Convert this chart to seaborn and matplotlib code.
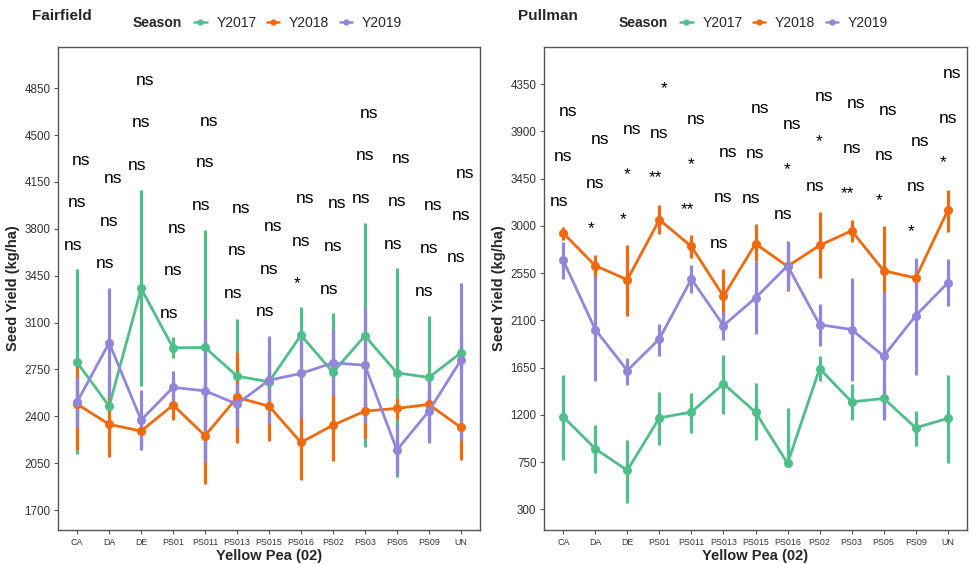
import numpy as np
import pandas as pd
import matplotlib
matplotlib.use("Agg")
import matplotlib.pyplot as plt
from matplotlib.lines import Line2D
import seaborn as sns

# ---------------------------------------------------------------- data
genotypes = ["CA", "DA", "DE", "PS01", "PS011", "PS013", "PS015",
             "PS016", "PS02", "PS03", "PS05", "PS09", "UN"]
seasons = ["Y2017", "Y2018", "Y2019"]
season_colors = ["#4FBE8B", "#F1690F", "#9286DB"]

# Fairfield: mean seed yield and error-bar limits (kg/ha)
ff_mean_2017 = [2802, 2476, 3355, 2911, 2914, 2700, 2658, 3006, 2728, 3001, 2725, 2690, 2874]
ff_lo_2017 = [2118, 2226, 2625, 2832, 2038, 2270, 2458, 2800, 2288, 2172, 1949, 2230, 2724]
ff_hi_2017 = [3499, 2726, 4093, 2989, 3790, 3130, 2858, 3213, 3168, 3847, 3504, 3150, 3024]

ff_mean_2018 = [2491, 2340, 2290, 2484, 2255, 2541, 2476, 2205, 2334, 2439, 2459, 2489, 2317]
ff_lo_2018 = [2148, 2098, 2160, 2372, 1892, 2202, 2217, 1924, 2066, 2235, 2377, 2400, 2073]
ff_hi_2018 = [2832, 2582, 2420, 2596, 2618, 2881, 2735, 2486, 2602, 2643, 2534, 2580, 2561]

ff_mean_2019 = [2508, 2949, 2372, 2616, 2590, 2491, 2670, 2720, 2799, 2782, 2148, 2439, 2819]
ff_lo_2019 = [2322, 2546, 2148, 2492, 2060, 2322, 2347, 2384, 2558, 2347, 1961, 2202, 2222]
ff_hi_2019 = [2695, 3359, 2596, 2740, 3118, 2646, 2999, 3043, 3043, 3217, 2334, 2683, 3399]

# Pullman: mean seed yield and error-bar limits (kg/ha)
pm_mean_2017 = [1182, 877, 671, 1172, 1226, 1496, 1226, 738, 1641, 1324, 1356, 1077, 1166]
pm_lo_2017 = [769, 649, 364, 912, 1030, 1210, 959, 720, 1521, 1150, 1190, 902, 738]
pm_hi_2017 = [1584, 1102, 959, 1420, 1410, 1775, 1499, 1268, 1765, 1496, 1521, 1235, 1584]

pm_mean_2018 = [2932, 2621, 2488, 3059, 2805, 2329, 2831, 2615, 2815, 2954, 2574, 2504, 3148]
pm_lo_2018 = [2869, 2514, 2146, 2919, 2695, 2065, 2669, 2380, 2504, 2843, 2146, 2420, 2938]
pm_hi_2018 = [2990, 2726, 2815, 3202, 2910, 2593, 3018, 2850, 3129, 3059, 3002, 2590, 3344]

pm_mean_2019 = [2672, 2013, 1622, 1924, 2495, 2051, 2314, 2621, 2060, 2013, 1759, 2146, 2457]
pm_lo_2019 = [2495, 1521, 1489, 1759, 2359, 1917, 1974, 2390, 1854, 1521, 1150, 1584, 2234]
pm_hi_2019 = [2843, 2520, 1743, 2070, 2631, 2177, 2669, 2859, 2260, 2504, 2367, 2695, 2688]

# Pairwise significance labels (three comparisons per genotype) and heights
ff_sig_top = ["ns"] * 13
ff_sig_mid = ["ns"] * 13
ff_sig_bot = ["ns", "ns", "ns", "ns", "ns", "ns", "ns", "*", "ns", "ns", "ns", "ns", "ns"]
ff_sig_y_top = [4312, 4175, 4909, 3802, 4605, 3952, 3814, 4026, 3989, 4661, 4325, 3971, 4217]
ff_sig_y_mid = [3996, 3857, 4593, 3486, 4292, 3635, 3496, 3708, 3670, 4344, 4001, 3653, 3902]
ff_sig_y_bot = [3678, 3541, 4275, 3168, 3971, 3317, 3180, 3391, 3349, 4026, 3685, 3334, 3583]

pm_sig_top = ["ns", "ns", "ns", "*", "ns", "ns", "ns", "ns", "ns", "ns", "ns", "ns", "ns"]
pm_sig_mid = ["ns", "ns", "*", "ns", "*", "ns", "ns", "*", "*", "ns", "ns", "ns", "ns"]
pm_sig_bot = ["ns", "*", "*", "**", "**", "ns", "ns", "ns", "ns", "**", "*", "*", "*"]
pm_sig_y_top = [4090, 3827, 3915, 4305, 4010, 3699, 4115, 3963, 4232, 4169, 4099, 3804, 4448]
pm_sig_y_mid = [3661, 3402, 3487, 3884, 3582, 3271, 3687, 3535, 3804, 3735, 3671, 3376, 4027]
pm_sig_y_bot = [3233, 2974, 3059, 3457, 3154, 2837, 3259, 3107, 3376, 3305, 3243, 2948, 3600]

ff_ticks = [1700, 2050, 2400, 2750, 3100, 3450, 3800, 4150, 4500, 4850]
pm_ticks = [300, 750, 1200, 1650, 2100, 2550, 3000, 3450, 3900, 4350]

# ---------------------------------------------------------------- style
sns.set_theme(style="white")
plt.rcParams["font.family"] = ["Liberation Sans", "DejaVu Sans"]

W, H = 972, 564
fig = plt.figure(figsize=(W / 100, H / 100), dpi=100)


def px_box(x0, y0, x1, y1):
    return [x0 / W, 1 - y1 / H, (x1 - x0) / W, (y1 - y0) / H]


def panel(ax, means, los, his, sig_labels, sig_heights, ylim, ticks):
    rows = []
    for s, m in zip(seasons, means):
        for g, v in zip(genotypes, m):
            rows.append({"Genotype": g, "Season": s, "Yield": v})
    df = pd.DataFrame(rows)

    pos = np.arange(len(genotypes))
    for col, lo, hi in zip(season_colors, los, his):
        ax.vlines(pos, lo, hi, colors=col, linewidth=2.3, zorder=1.5)

    sns.pointplot(data=df, x="Genotype", y="Yield", hue="Season",
                  order=genotypes, hue_order=seasons, palette=season_colors,
                  errorbar=None, markers="o", markersize=5.0, linewidth=2.0,
                  legend=False, ax=ax)

    offsets = [0.135, 0.0, -0.135]
    for labels, heights, dx in zip(sig_labels, sig_heights, offsets):
        for i, (lab, yv) in enumerate(zip(labels, heights)):
            ax.text(i + dx, yv, lab, ha="center", va="center",
                    fontsize=12.5, color="black", zorder=4)

    ax.set_xlim(-0.6, len(genotypes) - 0.4)
    ax.set_ylim(*ylim)
    ax.set_yticks(ticks)
    ax.set_yticklabels([str(t) for t in ticks], fontsize=8.4, color="#333333")
    ax.set_xticks(pos)
    ax.set_xticklabels(genotypes, fontsize=6.4, color="#333333")
    ax.tick_params(axis="both", which="major", direction="out", length=3,
                   width=0.8, color="#555555", pad=2.5,
                   bottom=True, left=True)
    for sp in ax.spines.values():
        sp.set_visible(True)
        sp.set_color("#555555")
        sp.set_linewidth(1.0)
    ax.set_xlabel("Yellow Pea (02)", fontsize=10.5, fontweight="bold")
    ax.set_ylabel("Seed Yield (kg/ha)", fontsize=10.5, fontweight="bold")
    ax.xaxis.set_label_coords(0.5, -0.04)
    ax.yaxis.set_label_coords(-0.09, 0.5)
    ax.grid(False)


def header(x_axes_left, title):
    fig.text((x_axes_left - 26) / W, 1 - 16 / H, title, fontsize=11,
             fontweight="bold", ha="left", va="center")
    fig.text((x_axes_left + 75) / W, 1 - 23 / H, "Season", fontsize=10,
             fontweight="bold", ha="left", va="center")
    handles = [Line2D([0], [0], color=c, linewidth=1.8, marker="o",
                      markersize=3.5) for c in season_colors]
    fig.legend(handles, seasons, loc="center left",
               bbox_to_anchor=((x_axes_left + 136) / W, 1 - 23 / H),
               ncol=3, frameon=False, fontsize=10, handlelength=0.9,
               handletextpad=0.7, columnspacing=0.75, borderpad=0,
               borderaxespad=0)


ax1 = fig.add_axes(px_box(58, 47, 480, 530))
panel(ax1,
      [ff_mean_2017, ff_mean_2018, ff_mean_2019],
      [ff_lo_2017, ff_lo_2018, ff_lo_2019],
      [ff_hi_2017, ff_hi_2018, ff_hi_2019],
      [ff_sig_top, ff_sig_mid, ff_sig_bot],
      [ff_sig_y_top, ff_sig_y_mid, ff_sig_y_bot],
      (1551, 5158), ff_ticks)
header(58, "Fairfield")

ax2 = fig.add_axes(px_box(544, 47, 967, 530))
panel(ax2,
      [pm_mean_2017, pm_mean_2018, pm_mean_2019],
      [pm_lo_2017, pm_lo_2018, pm_lo_2019],
      [pm_hi_2017, pm_hi_2018, pm_hi_2019],
      [pm_sig_top, pm_sig_mid, pm_sig_bot],
      [pm_sig_y_top, pm_sig_y_mid, pm_sig_y_bot],
      (103, 4705), pm_ticks)
header(544, "Pullman")

fig.savefig("out.png", dpi=100)
